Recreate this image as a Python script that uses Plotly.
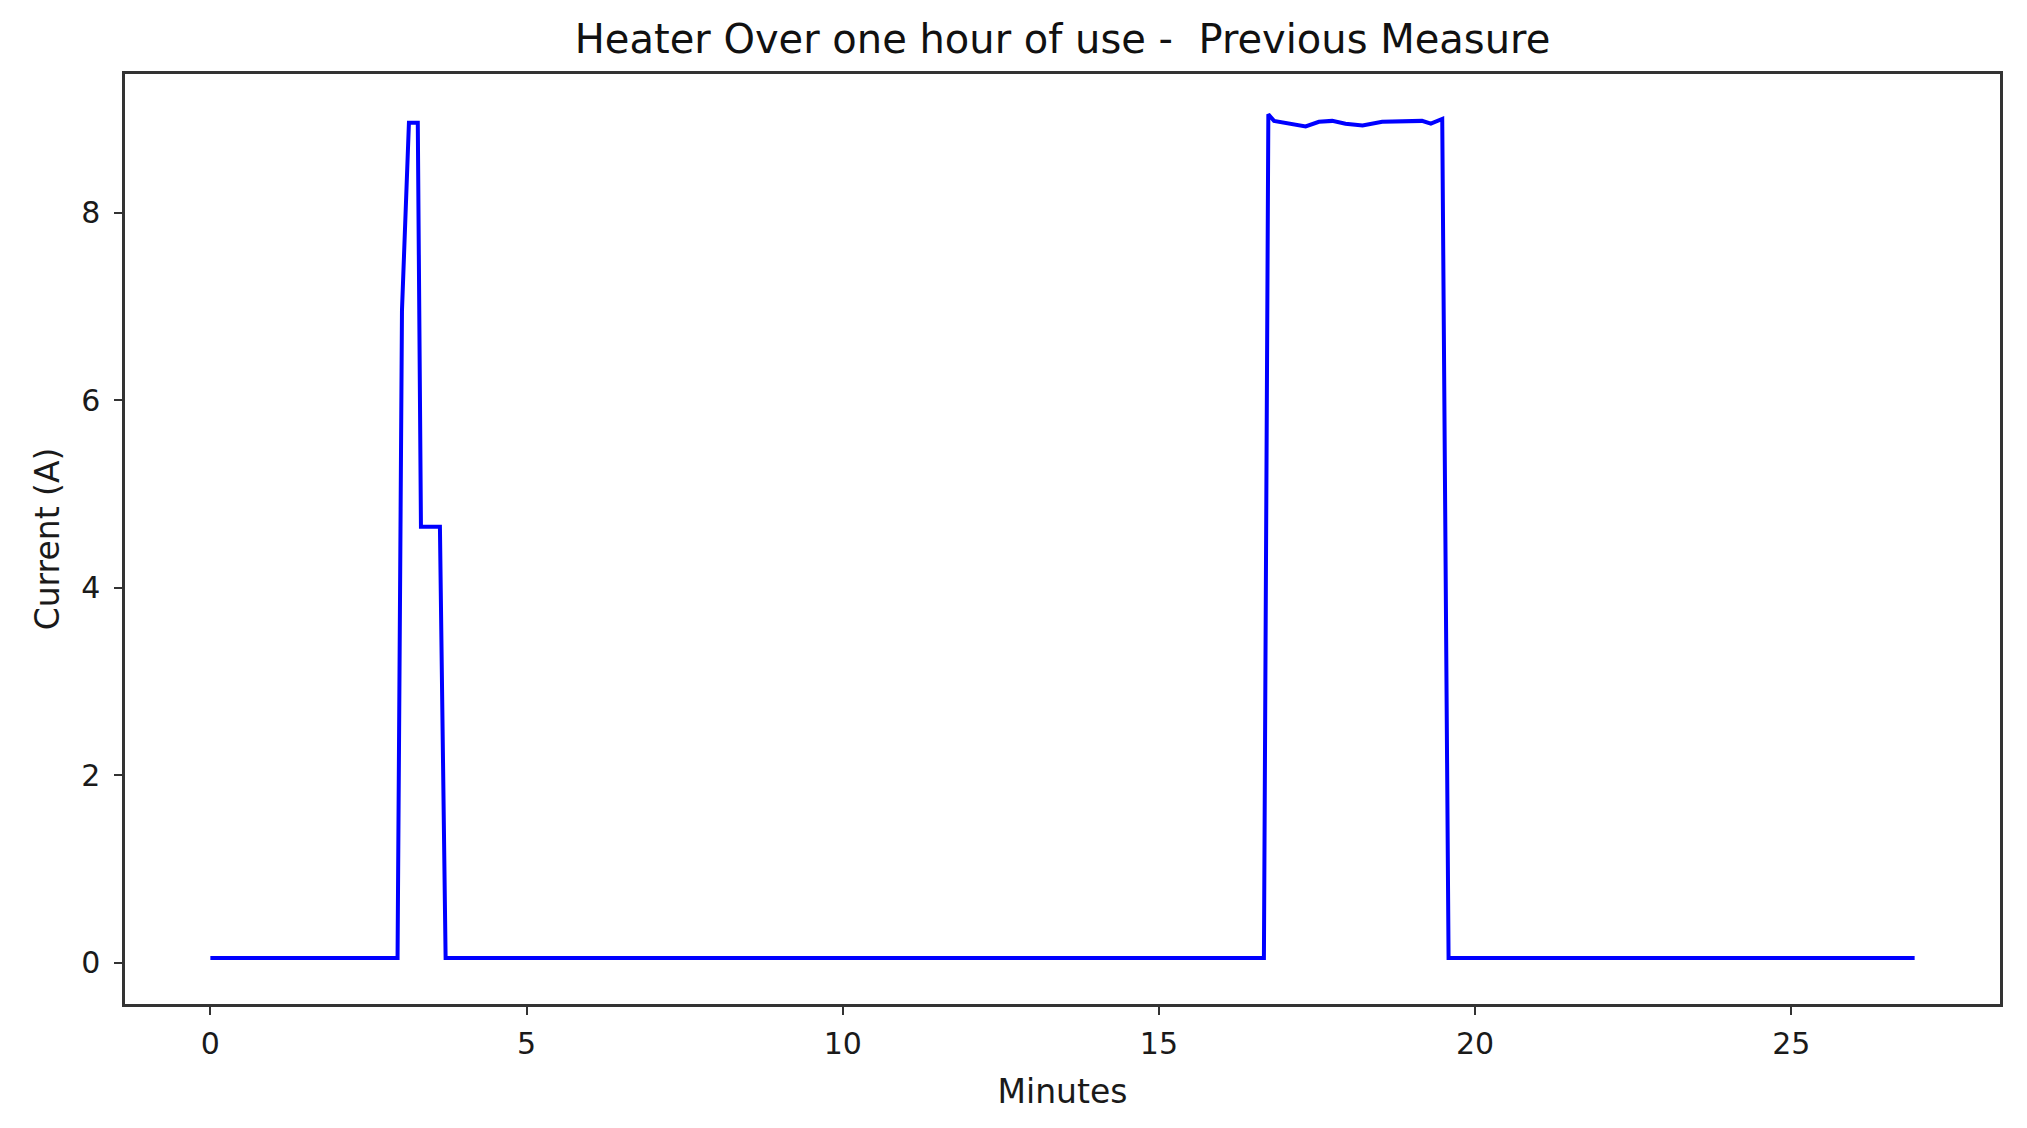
import plotly.graph_objects as go

minutes = [0.0, 2.96, 3.03, 3.14, 3.28, 3.33, 3.63, 3.72,
           16.66, 16.73, 16.82, 17.06, 17.32, 17.53, 17.74, 17.95, 18.22,
           18.53, 18.90, 19.16, 19.30, 19.48, 19.58, 26.95]
current = [0.05, 0.05, 6.96, 8.96, 8.96, 4.65, 4.65, 0.05,
           0.05, 9.05, 8.98, 8.95, 8.92, 8.97, 8.98, 8.95, 8.93,
           8.97, 8.98, 8.98, 8.95, 9.0, 0.05, 0.05]

x_ticks = [0, 5, 10, 15, 20, 25]
y_ticks = [0, 2, 4, 6, 8]

FONT = "DejaVu Sans"

fig = go.Figure()
fig.add_trace(go.Scatter(x=minutes, y=current, mode="lines",
                         line=dict(color="#0000ff", width=4), showlegend=False))

fig.update_layout(
    width=2027, height=1128,
    margin=dict(l=117, r=35, t=66, b=132),
    paper_bgcolor="white", plot_bgcolor="white",
    font=dict(family=FONT, size=30, color="#1a1a1a"),
    title=dict(text="Heater Over one hour of use -  Previous Measure",
               xref="paper", x=0.5, xanchor="center", y=0.9725, yanchor="middle",
               font=dict(family=FONT, size=40, color="#111111")),
)
fig.update_xaxes(range=[-1.35, 28.3], tickvals=x_ticks, ticks="outside", ticklen=8,
                 tickwidth=2, tickcolor="#333333", showgrid=False, zeroline=False,
                 showline=True, linecolor="#333333", linewidth=2.5, mirror=True,
                 ticklabelstandoff=3,
                 title=dict(text="Minutes", font=dict(size=33), standoff=21))
fig.update_yaxes(range=[-0.44, 9.48], tickvals=y_ticks, ticks="outside", ticklen=8,
                 tickwidth=2, tickcolor="#333333", showgrid=False, zeroline=False,
                 showline=True, linecolor="#333333", linewidth=2.5, mirror=True,
                 ticklabelstandoff=8,
                 title=dict(text="Current (A)", font=dict(size=33), standoff=12))

fig.write_html("out.html")
